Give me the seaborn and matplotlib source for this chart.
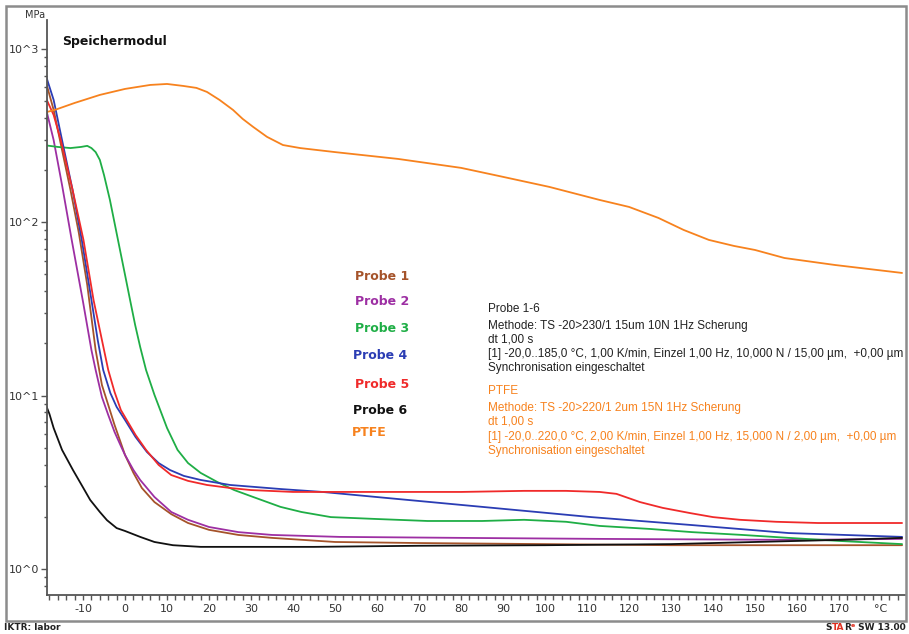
import matplotlib
matplotlib.use("Agg")
import matplotlib.pyplot as plt
import matplotlib.ticker as mticker
from matplotlib.patches import Rectangle
import seaborn as sns
import pandas as pd

# ---------------- data ----------------
probe1_T = [-19.5, -17, -15, -13, -11, -9, -7, -5.5, -4, -2.5, -1, 0, 2, 4, 7, 11, 15, 20, 27, 35, 50, 70, 100, 130, 160, 185]
probe1_E = [737, 445, 261, 154, 86.8, 43.5, 18.3, 11.5, 8.83, 6.77, 5.33, 4.54, 3.58, 2.93, 2.43, 2.07, 1.84, 1.68, 1.57, 1.51, 1.43, 1.41, 1.39, 1.37, 1.37, 1.37]

probe2_T = [-19.5, -17, -15, -12.7, -10, -8, -7, -5.5, -4, -2.5, -1, 0, 2, 3.6, 7, 11, 15, 20, 27, 35, 51, 80, 113, 160, 185]
probe2_E = [528, 298, 164, 79.1, 34.7, 18.3, 14.05, 9.8, 7.73, 6.17, 5.12, 4.54, 3.72, 3.26, 2.60, 2.13, 1.92, 1.745, 1.63, 1.57, 1.53, 1.51, 1.49, 1.47, 1.49]

probe3_T = [-19.5, -16, -13, -10.5, -9, -8, -7, -6, -5, -3.6, -2.4, -1.2, 0, 1.2, 2.4, 3.6, 5, 7, 10, 12.5, 15, 18, 22, 26, 30.5, 37, 42, 49, 60, 72, 85, 95, 105, 113, 125, 135, 147, 158, 170, 185]
probe3_E = [279, 272, 268, 272, 276, 268, 254, 229, 187, 134.5, 96.5, 69.2, 49.7, 35.6, 25.6, 19.1, 14.05, 10.1, 6.50, 4.86, 4.08, 3.58, 3.17, 2.85, 2.60, 2.28, 2.13, 1.99, 1.94, 1.89, 1.89, 1.92, 1.87, 1.77, 1.70, 1.63, 1.57, 1.51, 1.45, 1.39]

probe4_T = [-19.5, -17, -15, -12.5, -10.3, -8, -6.5, -5.2, -3.5, -2, 0, 2.5, 5.2, 8, 10.7, 14, 18, 25, 37, 47, 62, 85, 111, 135, 158, 185]
probe4_E = [787, 508, 298, 154, 79.1, 35.6, 20.9, 14.05, 10.35, 8.60, 7.23, 5.77, 4.73, 4.08, 3.72, 3.44, 3.26, 3.05, 2.89, 2.78, 2.57, 2.28, 1.99, 1.79, 1.61, 1.53]

probe5_T = [-19.5, -17, -15.3, -12.5, -9.9, -7.5, -5.5, -4, -2.5, -1, 0.4, 2.5, 5, 8, 11, 15, 19.5, 25, 30, 40, 60, 80, 95, 105, 113, 117, 122.6, 128, 134.5, 140, 146.4, 155, 165, 185]
probe5_E = [565, 416, 298, 154, 79.1, 35.6, 20.9, 14.05, 10.5, 8.26, 7.23, 5.93, 4.86, 3.98, 3.48, 3.22, 3.05, 2.93, 2.85, 2.78, 2.78, 2.78, 2.82, 2.82, 2.78, 2.71, 2.43, 2.25, 2.10, 1.99, 1.92, 1.87, 1.84, 1.84]

probe6_T = [-19.5, -18, -17, -15, -12.4, -10, -8.3, -6, -4.3, -2, 0, 3.6, 7, 11.4, 18, 27, 45, 70, 100, 130, 150, 170, 185]
probe6_E = [9.69, 7.83, 6.50, 4.86, 3.72, 2.95, 2.50, 2.13, 1.91, 1.72, 1.655, 1.53, 1.43, 1.37, 1.34, 1.34, 1.34, 1.36, 1.37, 1.39, 1.43, 1.47, 1.51]

ptfe_T = [-19.5, -16.7, -12, -6, 0, 6, 10, 13.8, 17, 19.5, 22.5, 25.7, 28, 30.5, 33.8, 37.6, 41.7, 50, 65, 80, 89, 101, 113, 120, 127, 133, 139, 145, 150, 157, 169, 185]
ptfe_E = [427, 445, 488, 543, 588, 620, 628, 612, 596, 565, 508, 445, 395, 355, 311, 279, 268, 254, 232, 206, 185, 160, 134.5, 122.6, 105.9, 90.3, 79.1, 73.0, 69.2, 62.2, 56.7, 51.0]

series_names = ["Probe 1", "Probe 2", "Probe 3", "Probe 4", "Probe 5", "Probe 6", "PTFE"]
x_ticks = [-10, 0, 10, 20, 30, 40, 50, 60, 70, 80, 90, 100, 110, 120, 130, 140, 150, 160, 170, 180]
x_tick_labels = ["-10", "0", "10", "20", "30", "40", "50", "60", "70", "80", "90",
                 "100", "110", "120", "130", "140", "150", "160", "170", "°C"]
y_ticks = [1, 10, 100, 1000]
y_tick_labels = ["10^0", "10^1", "10^2", "10^3"]

info_probe = ["Probe 1-6",
              "Methode: TS -20>230/1 15um 10N 1Hz Scherung",
              "dt 1,00 s",
              "[1] -20,0..185,0 °C, 1,00 K/min, Einzel 1,00 Hz, 10,000 N / 15,00 µm,  +0,00 µm",
              "Synchronisation eingeschaltet"]
info_ptfe = ["PTFE",
             "Methode: TS -20>220/1 2um 15N 1Hz Scherung",
             "dt 1,00 s",
             "[1] -20,0..220,0 °C, 2,00 K/min, Einzel 1,00 Hz, 15,000 N / 2,00 µm,  +0,00 µm",
             "Synchronisation eingeschaltet"]

colors = {"Probe 1": "#a5532a", "Probe 2": "#9d2fa3", "Probe 3": "#1fae46",
          "Probe 4": "#2b3db4", "Probe 5": "#f02a2a", "Probe 6": "#111111",
          "PTFE": "#f7821e"}

all_T = [probe1_T, probe2_T, probe3_T, probe4_T, probe5_T, probe6_T, ptfe_T]
all_E = [probe1_E, probe2_E, probe3_E, probe4_E, probe5_E, probe6_E, ptfe_E]
frames = []
for name, T, E in zip(series_names, all_T, all_E):
    frames.append(pd.DataFrame({"T": T, "E": E, "Serie": name}))
df = pd.concat(frames, ignore_index=True)

# ---------------- figure ----------------
sns.set_theme(style="white")
plt.rcParams["font.family"] = ["DejaVu Sans"]

W, H = 909, 634
fig = plt.figure(figsize=(W / 100, H / 100), dpi=100)
fig.patch.set_facecolor("white")

def fx(px):
    return px / W

def fy(py):
    return 1 - py / H

ax = fig.add_axes([fx(46.5), fy(595), (905 - 46.5) / W, (595 - 20) / H])
ax.set_facecolor("white")

sns.lineplot(data=df, x="T", y="E", hue="Serie", hue_order=series_names,
             palette=colors, estimator=None, sort=False, legend=False,
             linewidth=1.3, ax=ax)
for ln in ax.get_lines():
    ln.set_solid_joinstyle("round")
    ln.set_solid_capstyle("round")

ax.set_yscale("log")
ax.set_xlim(-18.7, 185.7)
ax.set_ylim(0.707, 1469)
ax.set_xlabel("")
ax.set_ylabel("")

for s in ["top", "right"]:
    ax.spines[s].set_visible(False)
for s in ["left", "bottom"]:
    ax.spines[s].set_color("#555555")
    ax.spines[s].set_linewidth(1.3)

ax.set_xticks(x_ticks)
ax.set_xticklabels(x_tick_labels)
ax.xaxis.set_minor_locator(mticker.MultipleLocator(2))
ax.set_yticks(y_ticks)
ax.set_yticklabels(y_tick_labels)
ax.yaxis.set_minor_locator(mticker.LogLocator(base=10, subs=[2, 3, 4, 5, 6, 7, 8, 9]))
ax.yaxis.set_minor_formatter(mticker.NullFormatter())

ax.tick_params(axis="x", which="both", direction="out", length=3.5, width=1,
               color="#555555", labelsize=8, labelcolor="#333333", pad=3, bottom=True)
ax.tick_params(axis="y", which="major", direction="out", length=4, width=1,
               color="#555555", labelsize=8, labelcolor="#333333", pad=1, left=True)
ax.tick_params(axis="y", which="minor", direction="out", length=2.5, width=1,
               color="#555555", left=True)

# outer frame
fig.patches.append(Rectangle((fx(6), fy(621)), (906 - 6) / W, (621 - 6) / H,
                             transform=fig.transFigure, fill=False,
                             edgecolor="#8c8c8c", linewidth=1.8))

# titles and unit
fig.text(fx(62), fy(42), "Speichermodul", fontsize=9, fontweight="bold",
         color="#111111", ha="left", va="center")
fig.text(fx(35), fy(15), "MPa", fontsize=7, color="#333333", ha="center", va="center")

# legend labels
leg_pos = [(355, 277), (355, 302), (355, 329), (353, 356), (355, 385), (353, 410), (352, 433)]
for name, (px, py) in zip(series_names, leg_pos):
    fig.text(fx(px), fy(py), name, fontsize=9, fontweight="bold",
             color=colors[name], ha="left", va="center")

# info text blocks
info_y1 = [309, 326, 340, 354, 368]
info_y2 = [391, 408, 422, 437, 451]
for txt, py in zip(info_probe, info_y1):
    fig.text(fx(488), fy(py), txt, fontsize=8.5, color="#222222", ha="left", va="center",
             family=["Liberation Sans", "DejaVu Sans"])
for txt, py in zip(info_ptfe, info_y2):
    fig.text(fx(488), fy(py), txt, fontsize=8.5, color=colors["PTFE"], ha="left", va="center",
             family=["Liberation Sans", "DejaVu Sans"])

# footer
fig.text(fx(4), fy(628), "IKTR: labor", fontsize=6.5, fontweight="bold",
         color="#222222", ha="left", va="center")

renderer = fig.canvas.get_renderer()
right = fx(906)
parts = [(" SW 13.00", "#222222", 6.5), ("e", "#e03020", 4.5), ("R", "#222222", 6.5),
         ("TA", "#e03020", 6.5), ("S", "#222222", 6.5)]
for txt, col, fs in parts:
    t = fig.text(right, fy(628), txt, fontsize=fs, fontweight="bold", color=col,
                 ha="right", va="center" if fs > 5 else "bottom")
    bb = t.get_window_extent(renderer=renderer)
    right -= bb.width / W

fig.savefig("out.png", dpi=100)
